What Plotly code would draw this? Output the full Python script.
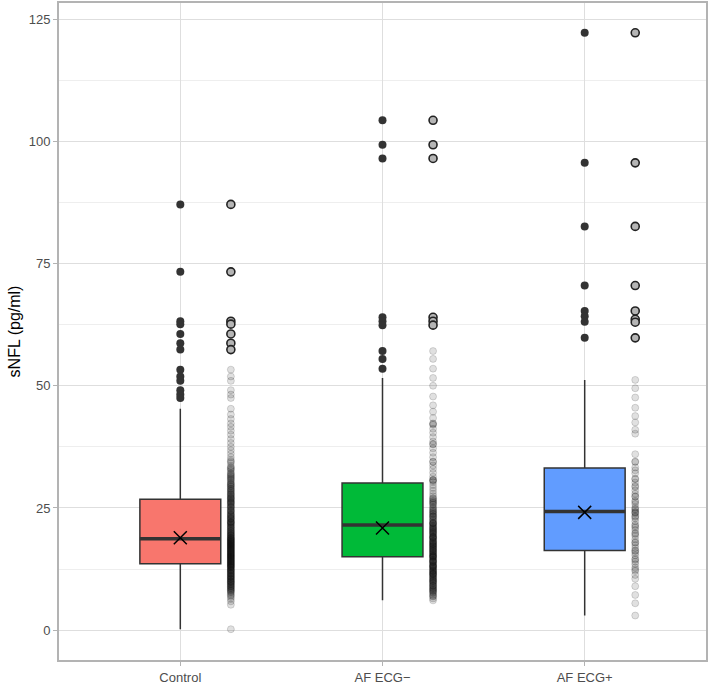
import plotly.graph_objects as go

# ---------------- data ----------------
groups = ["Control", "AF ECG\u2212", "AF ECG+"]
group_pos = [1, 2, 3]
box_fill = ["#F8766D", "#00BA38", "#619CFF"]

q1 = [13.6, 15.0, 16.3]
median = [18.7, 21.5, 24.3]
q3 = [26.8, 30.1, 33.2]
lower_fence = [0.2, 6.1, 3.0]
upper_fence = [45.3, 51.6, 51.2]
mean = [18.9, 20.9, 24.1]

outliers_control = [87.1, 73.3, 63.2, 62.6, 60.6, 58.7, 57.4, 53.3, 51.9, 51.0, 49.1, 48.2, 47.5]
outliers_afneg = [104.3, 99.3, 96.5, 64.0, 63.2, 62.4, 57.1, 55.5, 53.5]
outliers_afpos = [122.2, 95.6, 82.6, 70.5, 65.3, 64.2, 63.1, 59.8]

# individual observations (strip next to each box)
strip_control = [
    0.2, 5.2, 5.9, 6.4, 6.8, 7.1, 7.3, 7.6, 7.8, 8.0, 8.1, 8.3, 8.4, 8.6, 8.7, 8.9, 9.0, 9.1, 9.3, 9.4,
    9.5, 9.7, 9.8, 9.9, 10.0, 10.1, 10.3, 10.4, 10.5, 10.6, 10.8, 10.9, 11.0, 11.1, 11.2, 11.4, 11.5,
    11.6, 11.7, 11.8, 12.0, 12.1, 12.2, 12.3, 12.4, 12.5, 12.7, 12.8, 12.9, 13.0, 13.1, 13.2, 13.3,
    13.4, 13.5, 13.6, 13.7, 13.8, 13.9, 14.0, 14.1, 14.2, 14.3, 14.4, 14.5, 14.6, 14.7, 14.8, 14.9,
    15.0, 15.1, 15.2, 15.3, 15.4, 15.5, 15.6, 15.7, 15.8, 15.9, 16.0, 16.1, 16.2, 16.3, 16.4, 16.5,
    16.6, 16.7, 16.8, 16.9, 17.0, 17.1, 17.2, 17.3, 17.4, 17.5, 17.6, 17.7, 17.8, 17.9, 18.0, 18.1,
    18.2, 18.3, 18.4, 18.5, 18.6, 18.7, 18.8, 18.9, 19.0, 19.1, 19.3, 19.4, 19.5, 19.6, 19.8, 19.9,
    20.0, 20.2, 20.3, 20.4, 20.6, 20.7, 20.9, 21.0, 21.1, 21.3, 21.4, 21.6, 21.7, 21.9, 22.0, 22.2,
    22.3, 22.5, 22.7, 22.8, 23.0, 23.2, 23.3, 23.5, 23.7, 23.9, 24.1, 24.3, 24.5, 24.7, 24.9, 25.1,
    25.3, 25.5, 25.7, 25.9, 26.1, 26.3, 26.6, 26.8, 27.0, 27.3, 27.5, 27.8, 28.1, 28.4, 28.7, 29.0,
    29.3, 29.6, 29.9, 30.3, 30.6, 31.0, 31.4, 31.8, 32.2, 32.6, 33.1, 33.6, 34.2, 34.8, 35.4, 36.1,
    36.8, 37.5, 38.3, 39.1, 40.0, 40.8, 41.6, 42.3, 43.2, 44.1, 45.3,
    22.1, 22.9, 23.6, 24.4, 25.2, 26.0, 26.9, 27.7, 28.5, 29.4, 30.1, 31.2, 32.0, 33.3, 34.5,
    26.4, 27.2, 28.0, 28.9, 29.8, 30.8, 31.6, 32.9,
    47.5, 48.2, 49.1, 51.0, 51.9, 53.3,
]
strip_afneg = [
    6.1, 6.5, 6.9, 7.2, 7.5, 7.9, 8.2, 8.5, 8.8, 9.1, 9.4, 9.7, 10.0, 10.2, 10.5, 10.8, 11.0, 11.3,
    11.6, 11.8, 12.1, 12.3, 12.6, 12.9, 13.1, 13.4, 13.6, 13.9, 14.1, 14.4, 14.6, 14.9, 15.1, 15.3,
    15.6, 15.8, 16.1, 16.3, 16.6, 16.8, 17.0, 17.3, 17.5, 17.8, 18.0, 18.3, 18.5, 18.8, 19.0, 19.3,
    19.6, 19.8, 20.1, 20.4, 20.6, 20.9, 21.2, 21.5, 21.8, 22.1, 22.4, 22.7, 23.0, 23.3, 23.7, 24.0,
    24.4, 24.8, 25.2, 25.6, 26.0, 26.4, 26.9, 27.4, 27.9, 28.5, 29.1, 29.7, 30.3, 30.7, 31.4, 32.2,
    33.0, 33.7, 34.5, 35.4, 36.3, 37.2, 38.0, 38.6, 39.5, 40.4, 41.2, 42.0, 42.3, 43.4, 44.7, 46.0,
    47.8, 50.0, 51.6,
    8.0, 8.6, 9.2, 9.9, 10.4, 11.1, 11.7, 12.2, 12.8, 13.3, 13.8, 14.3, 14.8, 15.2, 15.7, 16.2,
    16.7, 17.2, 17.7, 18.2, 18.7, 19.2, 19.7, 20.2, 20.8, 21.3, 21.9, 22.6, 23.4, 24.2, 25.0, 26.2,
    7.0, 7.7, 9.6, 10.7, 11.5, 12.5, 13.2, 14.0, 15.0, 16.0, 17.1, 18.1, 19.1, 20.0, 21.0, 22.0,
    23.2, 24.5, 25.8, 27.0, 30.6, 30.8, 34.4, 38.1, 42.2,
    8.3, 9.0, 10.1, 11.4, 12.0, 13.0, 14.2, 15.4, 16.5, 17.6, 18.9, 20.5, 21.7, 23.8, 26.6,
    53.5, 55.5, 57.1,
]
strip_afpos = [
    3.0, 5.5, 7.2, 9.0, 10.5, 11.3, 12.1, 12.8, 13.5, 14.0, 14.6, 15.3, 15.8, 16.2, 16.8, 17.4, 18.0,
    18.6, 19.3, 19.9, 20.5, 21.0, 21.6, 22.3, 22.9, 23.4, 23.9, 24.2, 24.6, 25.1, 25.8, 26.5, 27.3,
    27.9, 28.6, 29.5, 30.2, 31.0, 32.1, 33.3, 34.5, 36.0, 40.2, 41.0, 42.5, 43.8, 45.5, 47.6, 49.5,
    51.2,
    12.4, 14.4, 16.3, 17.9, 19.7, 21.3, 23.2, 24.1, 24.8, 26.2, 27.4, 29.3, 30.9, 32.7, 34.4,
]
strip_hi_control = [87.1, 73.3, 63.2, 62.6, 60.6, 58.7, 57.4]
strip_hi_afneg = [104.3, 99.3, 96.5, 64.0, 63.2, 62.4]
strip_hi_afpos = [122.2, 95.6, 82.6, 70.5, 65.3, 63.6, 63.0, 59.8]

y_ticks = [0, 25, 50, 75, 100, 125]

# ---------------- figure ----------------
BOX_W = 0.4
STRIP_OFF = 0.25
fig = go.Figure()

outliers = [outliers_control, outliers_afneg, outliers_afpos]
strips = [strip_control, strip_afneg, strip_afpos]
strips_hi = [strip_hi_control, strip_hi_afneg, strip_hi_afpos]

for i, g in enumerate(groups):
    p = group_pos[i]
    fig.add_trace(go.Box(
        x=[p], q1=[q1[i]], median=[median[i]], q3=[q3[i]],
        lowerfence=[lower_fence[i]], upperfence=[upper_fence[i]],
        width=BOX_W, fillcolor=box_fill[i],
        line=dict(color="#333333", width=1.5),
        whiskerwidth=0, boxpoints=False, showlegend=False, name=g,
    ))
    # thick median bar
    fig.add_trace(go.Scatter(
        x=[p - BOX_W / 2, p + BOX_W / 2], y=[median[i], median[i]], mode="lines",
        line=dict(color="#333333", width=3.5), showlegend=False, hoverinfo="skip",
    ))
    # mean cross
    fig.add_trace(go.Scatter(
        x=[p], y=[mean[i]], mode="markers",
        marker=dict(symbol="x-thin", size=13, line=dict(color="black", width=1.5)),
        showlegend=False,
    ))
    # box-plot outliers
    fig.add_trace(go.Scatter(
        x=[p] * len(outliers[i]), y=outliers[i], mode="markers",
        marker=dict(color="#333333", size=8, line=dict(width=0)),
        showlegend=False,
    ))
    # strip of observations
    fig.add_trace(go.Scatter(
        x=[p + STRIP_OFF] * len(strips[i]), y=strips[i], mode="markers",
        marker=dict(color="rgba(0,0,0,0.12)", size=7,
                    line=dict(color="rgba(0,0,0,0.14)", width=1)),
        showlegend=False,
    ))
    fig.add_trace(go.Scatter(
        x=[p + STRIP_OFF] * len(strips_hi[i]), y=strips_hi[i], mode="markers",
        marker=dict(color="#b5b5b5", size=8, line=dict(color="#222222", width=1.6)),
        showlegend=False,
    ))

fig.update_layout(
    width=709, height=686,
    margin=dict(l=59, r=1, t=2, b=25),
    paper_bgcolor="white", plot_bgcolor="white",
    font=dict(family="Liberation Sans, Arial, sans-serif"),
    showlegend=False,
)
fig.update_xaxes(
    range=[0.4, 3.6], tickmode="array", tickvals=group_pos, ticktext=groups,
    showgrid=True, gridcolor="#dedede", gridwidth=1, zeroline=False,
    showline=True, mirror=True, linecolor="#b3b3b3", linewidth=2,
    ticks="outside", ticklen=4, tickcolor="#b3b3b3", tickwidth=1,
    tickfont=dict(size=13, color="#4d4d4d"),
)
fig.update_yaxes(
    range=[-6.1, 128.3], tickmode="array", tickvals=y_ticks,
    showgrid=True, gridcolor="#dedede", gridwidth=1, zeroline=False,
    minor=dict(dtick=12.5, showgrid=True, gridcolor="#eeeeee", gridwidth=0.7),
    showline=True, mirror=True, linecolor="#b3b3b3", linewidth=2,
    ticks="outside", ticklen=4, tickcolor="#b3b3b3", tickwidth=1,
    tickfont=dict(size=13, color="#4d4d4d"),
    title=dict(text="sNFL (pg/ml)", font=dict(size=16, color="black"), standoff=4),
)

fig.write_html(
    "out.html",
    config={"displayModeBar": False},
    post_script="document.body.style.margin='0';document.body.style.padding='0';",
)
